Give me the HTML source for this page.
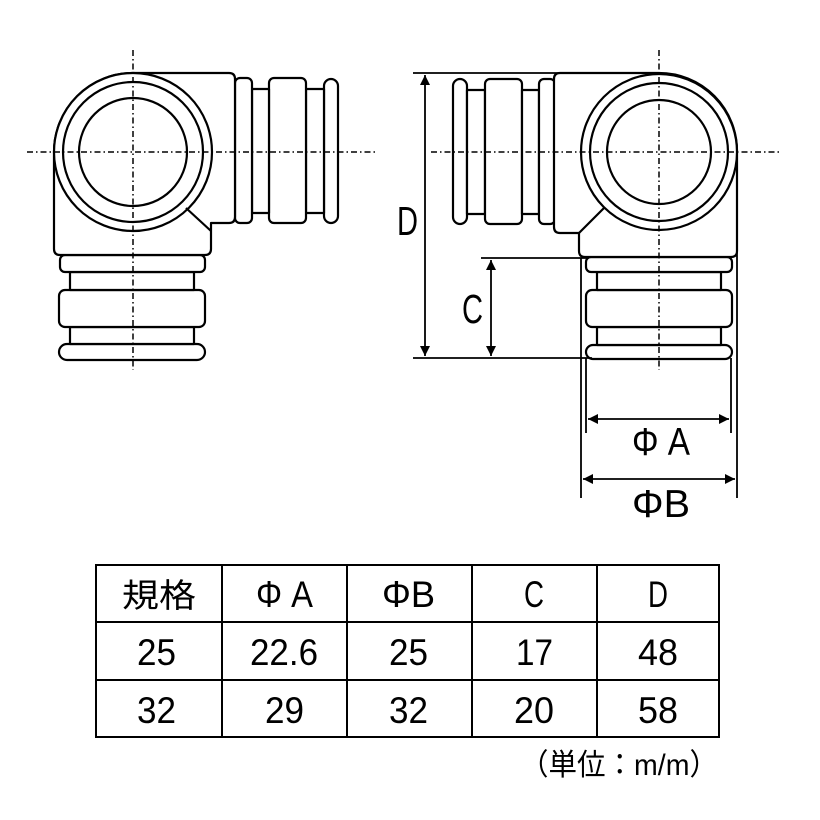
<!DOCTYPE html>
<html><head><meta charset="utf-8"><style>
html,body{margin:0;padding:0;background:#fff;}
svg{display:block;}
.t{font-family:"Liberation Sans","Noto Sans CJK JP",sans-serif;fill:#000;}
</style></head><body>
<svg width="820" height="820" viewBox="0 0 820 820" xmlns="http://www.w3.org/2000/svg">
<defs>
<marker id="ar" viewBox="0 0 10 10" refX="10" refY="5" markerWidth="14" markerHeight="10" markerUnits="userSpaceOnUse" orient="auto-start-reverse">
<path d="M0,0 L10,5 L0,10 z" fill="#000"/></marker>
</defs>
<g fill="#fff" stroke="#000" stroke-width="2.2" stroke-linejoin="round">
<rect x="324" y="79" width="14" height="144" rx="7"/>
<rect x="306" y="89" width="18" height="124"/>
<rect x="269" y="78" width="37" height="145" rx="5"/>
<rect x="252" y="89" width="17" height="124"/>
<rect x="235" y="78" width="17" height="145" rx="5"/>
<rect x="59" y="344" width="146" height="16" rx="8"/>
<rect x="70" y="327" width="124" height="17"/>
<rect x="59" y="290" width="146" height="37" rx="6"/>
<rect x="70" y="272" width="124" height="18"/>
<rect x="60" y="255" width="145" height="17" rx="5"/>
<path d="M133,73 L229,73 Q235,73 235,79 L235,217 Q235,223 229,223 L211,223 L211,249 Q211,255 205,255 L60,255 Q54,255 54,249 L54,152 A79,79 0 0 1 133,73 Z"/>
<circle cx="133" cy="152" r="79"/>
<circle cx="133" cy="152" r="70"/>
<circle cx="133" cy="152" r="54"/>
<line x1="186" y1="208" x2="211" y2="231"/>

<rect x="453" y="79" width="14" height="145" rx="7"/>
<rect x="467" y="90" width="18" height="124"/>
<rect x="485" y="79" width="37" height="145" rx="5"/>
<rect x="522" y="90" width="17" height="124"/>
<rect x="539" y="79" width="16" height="145" rx="5"/>
<rect x="586" y="345" width="146" height="14" rx="7"/>
<rect x="597" y="327" width="124" height="18"/>
<rect x="586" y="290" width="146" height="37" rx="6"/>
<rect x="597" y="272" width="124" height="18"/>
<rect x="586" y="257" width="146" height="15" rx="5"/>
<path d="M659,73 L560,73 Q554,73 554,79 L554,227 Q554,233 560,233 L579,233 L579,251 Q579,257 585,257 L731,257 Q737,257 737,251 L737,152 A78,78 0 0 0 659,73 Z"/>
<circle cx="659" cy="152" r="78"/>
<circle cx="659" cy="152" r="69"/>
<circle cx="659" cy="152" r="52"/>
<line x1="604" y1="208" x2="579" y2="233"/>
</g>

<g stroke="#000" stroke-width="1.5" stroke-dasharray="6,3,1.5,3" fill="none">
<line x1="27" y1="152" x2="376" y2="152"/>
<line x1="133" y1="50" x2="133" y2="370"/>
<line x1="431" y1="152" x2="780" y2="152"/>
<line x1="659" y1="50" x2="659" y2="370"/>
</g>

<g stroke="#000" stroke-width="1.8" fill="none">
<line x1="413" y1="73" x2="659" y2="73"/>
<line x1="413" y1="358" x2="592" y2="358"/>
<line x1="481" y1="258" x2="588" y2="258"/>
<line x1="425" y1="75" x2="425" y2="356" marker-start="url(#ar)" marker-end="url(#ar)"/>
<line x1="491" y1="260" x2="491" y2="356" marker-start="url(#ar)" marker-end="url(#ar)"/>
<line x1="581" y1="258" x2="581" y2="498"/>
<line x1="737" y1="165" x2="737" y2="498"/>
<line x1="586" y1="358" x2="586" y2="433"/>
<line x1="731" y1="358" x2="731" y2="433"/>
<line x1="588" y1="419" x2="729" y2="419" marker-start="url(#ar)" marker-end="url(#ar)"/>
<line x1="583" y1="479" x2="735" y2="479" marker-start="url(#ar)" marker-end="url(#ar)"/>
</g>
<text class="t" x="397" y="235" font-size="41" textLength="21" lengthAdjust="spacingAndGlyphs">D</text>
<text class="t" x="462" y="323" font-size="41" textLength="21" lengthAdjust="spacingAndGlyphs">C</text>
<text class="t" x="632" y="455" font-size="39" textLength="58" lengthAdjust="spacingAndGlyphs">Φ A</text>
<text class="t" x="632" y="517" font-size="39" textLength="58" lengthAdjust="spacingAndGlyphs">ΦB</text>

<g stroke="#000" stroke-width="2" fill="none">
<rect x="96" y="565" width="623" height="172"/>
<line x1="96" y1="622" x2="719" y2="622"/>
<line x1="96" y1="680" x2="719" y2="680"/>
<line x1="222" y1="565" x2="222" y2="737"/>
<line x1="347" y1="565" x2="347" y2="737"/>
<line x1="472" y1="565" x2="472" y2="737"/>
<line x1="597" y1="565" x2="597" y2="737"/>
</g>
<g class="t" font-size="37">
<text x="122" y="607" font-size="33" textLength="74" lengthAdjust="spacingAndGlyphs">規格</text>
<text x="256" y="607" textLength="57" lengthAdjust="spacingAndGlyphs">Φ A</text>
<text x="382" y="607" textLength="53" lengthAdjust="spacingAndGlyphs">ΦB</text>
<text x="524" y="607" textLength="20" lengthAdjust="spacingAndGlyphs">C</text>
<text x="648" y="607" textLength="20" lengthAdjust="spacingAndGlyphs">D</text>
<text x="137" y="665" textLength="39" lengthAdjust="spacingAndGlyphs">25</text>
<text x="250" y="665" textLength="68" lengthAdjust="spacingAndGlyphs">22.6</text>
<text x="389" y="665" textLength="39" lengthAdjust="spacingAndGlyphs">25</text>
<text x="516" y="665" textLength="37" lengthAdjust="spacingAndGlyphs">17</text>
<text x="638" y="665" textLength="40" lengthAdjust="spacingAndGlyphs">48</text>
<text x="137" y="723" textLength="39" lengthAdjust="spacingAndGlyphs">32</text>
<text x="265" y="723" textLength="39" lengthAdjust="spacingAndGlyphs">29</text>
<text x="389" y="723" textLength="39" lengthAdjust="spacingAndGlyphs">32</text>
<text x="514" y="723" textLength="40" lengthAdjust="spacingAndGlyphs">20</text>
<text x="638" y="723" textLength="40" lengthAdjust="spacingAndGlyphs">58</text>
</g>
<text class="t" x="520" y="775" font-size="30" textLength="198" lengthAdjust="spacingAndGlyphs">（単位：m/m）</text>
</svg>
</body></html>
